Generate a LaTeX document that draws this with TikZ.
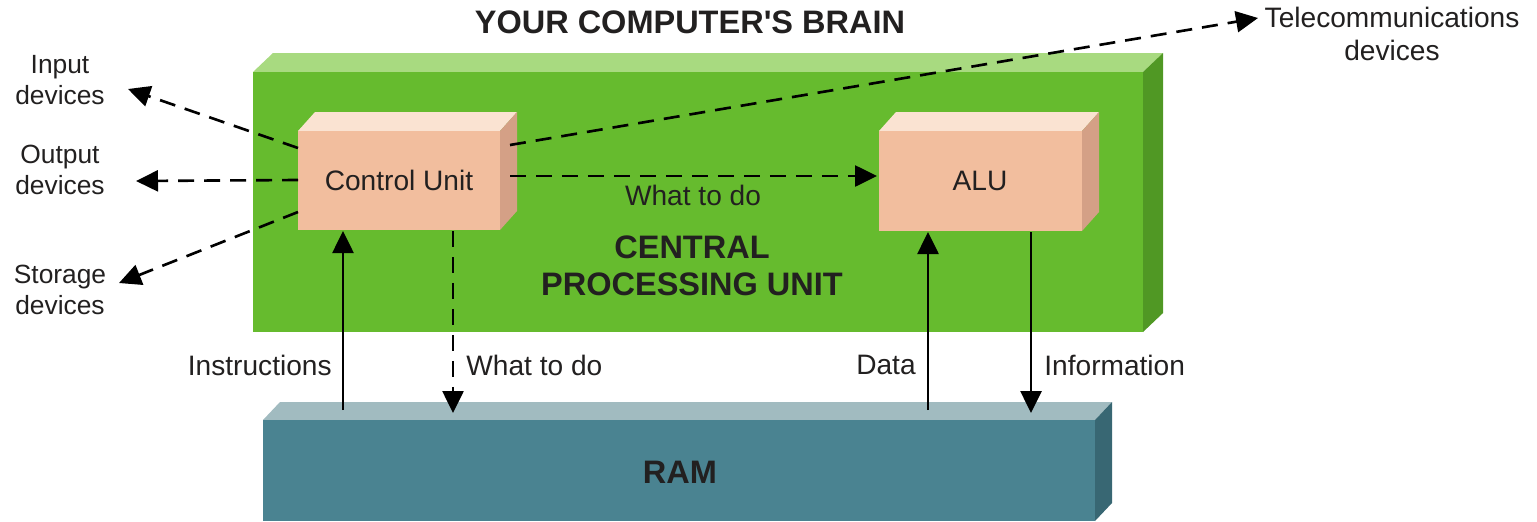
\documentclass[tikz,border=0pt]{standalone}
\usepackage{fontspec}
\setmainfont{Liberation Sans}
\usetikzlibrary{arrows.meta}
\definecolor{cpufront}{RGB}{102,187,46}
\definecolor{cputop}{RGB}{168,218,128}
\definecolor{cpuside}{RGB}{80,152,36}
\definecolor{unitfront}{RGB}{242,190,158}
\definecolor{unittop}{RGB}{250,227,210}
\definecolor{unitside}{RGB}{212,160,134}
\definecolor{ramfront}{RGB}{74,131,145}
\definecolor{ramtop}{RGB}{161,187,192}
\definecolor{ramside}{RGB}{56,103,115}
\definecolor{ink}{RGB}{34,32,32}
\begin{document}
\begin{tikzpicture}[x=0.02cm,y=-0.02cm,
		lbl/.style={font=\fontsize{16}{19}\selectfont,text=ink,align=center,inner sep=0pt},
		side/.style={lbl,font=\fontsize{15}{18}\selectfont},
		hd/.style={font=\fontsize{18.5}{21}\selectfont\bfseries,text=ink,align=center,inner sep=0pt},
		flow/.style={draw=black,line width=1.5pt,-{Triangle[length=0.44cm,width=0.42cm]}},
		dflow/.style={flow,dash pattern=on 0.32cm off 0.2cm}]
		\useasboundingbox (0,0) rectangle (1537,521);
		\fill[cputop] (253,72) -- (273,53) -- (1163,53) -- (1143,72) -- cycle;
		\fill[cpuside] (1143,72) -- (1163,53) -- (1163,313) -- (1143,332) -- cycle;
		\fill[cpufront] (253,72) rectangle (1143,332);
		\fill[unittop] (298,131) -- (315,112) -- (517,112) -- (500,131) -- cycle;
		\fill[unitside] (500,131) -- (517,112) -- (517,211) -- (500,230) -- cycle;
		\fill[unitfront] (298,131) rectangle (500,230);
		\fill[unittop] (879,131) -- (896,112) -- (1099,112) -- (1082,131) -- cycle;
		\fill[unitside] (1082,131) -- (1099,112) -- (1099,212) -- (1082,231) -- cycle;
		\fill[unitfront] (879,131) rectangle (1082,231);
		\fill[ramtop] (263,420) -- (280,402) -- (1112,402) -- (1095,420) -- cycle;
		\fill[ramside] (1095,420) -- (1112,402) -- (1112,503) -- (1095,521) -- cycle;
		\fill[ramfront] (263,420) rectangle (1095,521);
		\node[hd] (brain) at (690,22) {YOUR COMPUTER\textquotesingle S BRAIN};
		\node[hd] (cpu) at (692,266) {CENTRAL\\PROCESSING UNIT};
		\node[hd] (ram) at (680,472) {RAM};
		\node[lbl] (cu) at (399,180) {Control Unit};
		\node[lbl] (alu) at (980,181) {ALU};
		\node[side] (input) at (60,80) {Input\\devices};
		\node[side] (output) at (60,170) {Output\\devices};
		\node[side] (storage) at (60,290) {Storage\\devices};
		\node[lbl] (tele) at (1392,34) {Telecommunications\\devices};
		\node[lbl] (todo) at (693,195) {What to do};
		\node[lbl,anchor=east] (instr) at (332,365) {Instructions};
		\node[lbl,anchor=west] (todo2) at (466,365) {What to do};
		\node[lbl,anchor=east] (data) at (916,365) {Data};
		\node[lbl,anchor=west] (info) at (1044,365) {Information};
		\coordinate (cu-a) at (298,148);
		\coordinate (cu-b) at (298,180);
		\coordinate (cu-c) at (298,212);
		\coordinate (cu-d) at (510,145);
		\coordinate (cu-e) at (510,176);
		\coordinate (cu-f) at (343,231);
		\coordinate (cu-g) at (453,231);
		\coordinate (alu-a) at (877,176);
		\coordinate (alu-b) at (928,232);
		\coordinate (alu-c) at (1031,232);
		\coordinate (ram-a) at (343,410);
		\coordinate (ram-b) at (453,413);
		\coordinate (ram-c) at (928,410);
		\coordinate (ram-d) at (1031,413);
		\coordinate (in-end) at (128,89);
		\coordinate (out-end) at (136,181);
		\coordinate (st-end) at (119,283);
		\coordinate (tel-end) at (1258,18);
		\draw[dflow] (cu-a) -- (in-end);
		\draw[dflow] (cu-b) -- (out-end);
		\draw[dflow] (cu-c) -- (st-end);
		\draw[dflow] (cu-d) -- (tel-end);
		\draw[dflow] (cu-e) -- (alu-a);
		\draw[dflow] (cu-g) -- (ram-b);
		\draw[flow] (ram-a) -- (cu-f);
		\draw[flow] (ram-c) -- (alu-b);
		\draw[flow] (alu-c) -- (ram-d);
\end{tikzpicture}
\end{document}
